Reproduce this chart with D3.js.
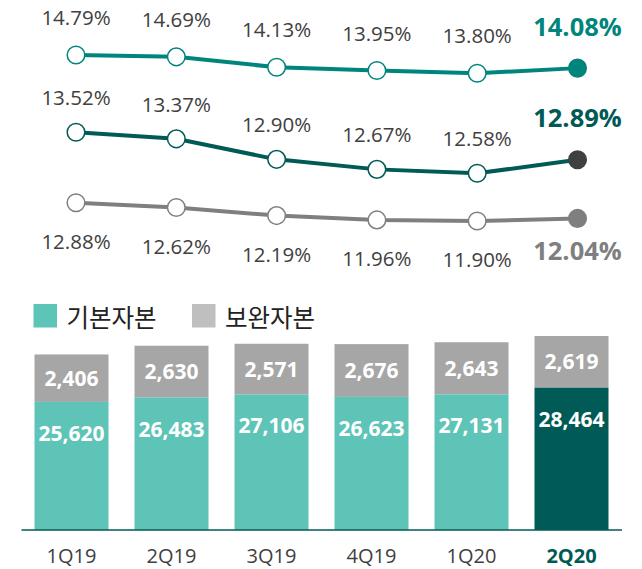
<!DOCTYPE html>
<html>
<head>
<meta charset="utf-8">
<script src="https://cdn.jsdelivr.net/npm/d3@7"></script>
<style>
  body { margin: 0; background: #fff; }
  svg { display: block; }
</style>
</head>
<body>
<svg id="chart" width="642" height="569"></svg>
<script>
/* globals d3 */

// data
var quarters = ["1Q19", "2Q19", "3Q19", "4Q19", "1Q20", "2Q20"];
var bisRatio = [14.79, 14.69, 14.13, 13.95, 13.80, 14.08];
var tier1Ratio = [13.52, 13.37, 12.90, 12.67, 12.58, 12.89];
var cet1Ratio = [12.88, 12.62, 12.19, 11.96, 11.90, 12.04];
var tier1Capital = [25620, 26483, 27106, 26623, 27131, 28464];
var tier2Capital = [2406, 2630, 2571, 2676, 2643, 2619];
var legendNames = ["기본자본", "보완자본"];

var svg = d3.select("#chart");
var font = "'Open Sans', 'Noto Sans', sans-serif";
var baseY = 530;

//x scales: bands for the bars, points for the lines
var x = d3.scaleBand().domain(quarters).range([21.5, 621.5])
    .paddingInner(0.26).paddingOuter(0.13);
var xp = d3.scalePoint().domain(quarters).range([76, 577.5]);

//bars: tier 1 from zero, tier 2 stacked on top on its own scale
var yT1cap = d3.scaleLinear().domain([0, 30000]).range([baseY, baseY - 150]);
var hT2cap = d3.scaleLinear().domain([0, 2500]).range([0, 49.3]);

var bars = quarters.map(function(q, i) {
    var top1 = yT1cap(tier1Capital[i]);
    return {q: q, i: i, t1: tier1Capital[i], t2: tier2Capital[i],
            top1: top1, top2: top1 - hT2cap(tier2Capital[i])};
});
var last = quarters.length - 1;

var g = svg.append("g");
g.selectAll(".t2").data(bars).enter().append("rect")
    .attr("x", function(d) { return x(d.q); })
    .attr("y", function(d) { return d.top2; })
    .attr("width", x.bandwidth())
    .attr("height", function(d) { return d.top1 - d.top2; })
    .attr("fill", "#a6a6a6");
g.selectAll(".t1").data(bars).enter().append("rect")
    .attr("x", function(d) { return x(d.q); })
    .attr("y", function(d) { return d.top1; })
    .attr("width", x.bandwidth())
    .attr("height", function(d) { return baseY - d.top1; })
    .attr("fill", function(d) { return d.i === last ? "#005a55" : "#5fc4b8"; });

g.selectAll(".t2lab").data(bars).enter().append("text")
    .attr("x", function(d) { return x(d.q) + x.bandwidth() / 2; })
    .attr("y", function(d) { return (d.top1 + d.top2) / 2 + 7.5; })
    .attr("text-anchor", "middle")
    .style("font", "bold 21px " + font).attr("fill", "#fff")
    .text(function(d) { return d3.format(",")(d.t2); });
g.selectAll(".t1lab").data(bars).enter().append("text")
    .attr("x", function(d) { return x(d.q) + x.bandwidth() / 2; })
    .attr("y", function(d) { return d.top1 + 39; })
    .attr("text-anchor", "middle")
    .style("font", "bold 21px " + font).attr("fill", "#fff")
    .text(function(d) { return d3.format(",")(d.t1); });

//baseline
svg.append("line")
    .attr("x1", 21.5).attr("x2", 622)
    .attr("y1", baseY).attr("y2", baseY)
    .attr("stroke", "#005a55").attr("stroke-width", 1.5);

//category labels
svg.selectAll(".cat").data(quarters).enter().append("text")
    .attr("x", function(d) { return x(d) + x.bandwidth() / 2; })
    .attr("y", 563)
    .attr("text-anchor", "middle")
    .style("font", function(d, i) { return (i === last ? "bold " : "") + "20px " + font; })
    .attr("fill", function(d, i) { return i === last ? "#005a55" : "#404040"; })
    .text(function(d) { return d; });

//legend
var legend = svg.append("g");
[{x: 33.5, color: "#5cc5b7"}, {x: 192, color: "#bfbfbf"}].forEach(function(l, i) {
    legend.append("rect").attr("x", l.x).attr("y", 304)
        .attr("width", 23.5).attr("height", 23.5).attr("fill", l.color);
    legend.append("text").attr("x", l.x + 33).attr("y", 316)
        .attr("dominant-baseline", "central")
        .style("font", "24.5px 'Noto Sans CJK KR', sans-serif")
        .attr("fill", "#222")
        .text(legendNames[i]);
});

//ratio lines, each on its own scale
var series = [
    {values: bisRatio, y: d3.scaleLinear().domain([13.80, 14.79]).range([73.3, 55]),
     color: "#00857d", lastFill: "#00857d", dy: -30, lastDy: -32},
    {values: tier1Ratio, y: d3.scaleLinear().domain([12.58, 13.52]).range([173.3, 132.3]),
     color: "#005a55", lastFill: "#404040", dy: -27, lastDy: -33},
    {values: cet1Ratio, y: d3.scaleLinear().domain([11.90, 12.88]).range([221, 202.7]),
     color: "#7f7f7f", lastFill: "#7f7f7f", dy: 46, lastDy: 42}
];

series.forEach(function(s) {
    var pts = s.values.map(function(v, i) { return [xp(quarters[i]), s.y(v), v, i]; });
    var sg = svg.append("g");
    sg.append("path")
        .datum(pts)
        .attr("fill", "none")
        .attr("stroke", s.color)
        .attr("stroke-width", 4)
        .attr("d", d3.line().x(function(d) { return d[0]; }).y(function(d) { return d[1]; }));
    sg.selectAll("circle").data(pts).enter().append("circle")
        .attr("cx", function(d) { return d[0]; })
        .attr("cy", function(d) { return d[1]; })
        .attr("r", 8.8)
        .attr("fill", function(d) { return d[3] === last ? s.lastFill : "#fff"; })
        .attr("stroke", function(d) { return d[3] === last ? s.lastFill : s.color; })
        .attr("stroke-width", 1.5);
    sg.selectAll("text").data(pts).enter().append("text")
        .attr("x", function(d) { return d[0]; })
        .attr("y", function(d) { return d[1] + (d[3] === last ? s.lastDy : s.dy); })
        .attr("text-anchor", "middle")
        .style("font", function(d) { return d[3] === last ? "bold 25.5px " + font : "20.5px " + font; })
        .attr("fill", function(d) { return d[3] === last ? s.color : "#404040"; })
        .text(function(d) { return d[2].toFixed(2) + "%"; });
});
</script>
</body>
</html>
